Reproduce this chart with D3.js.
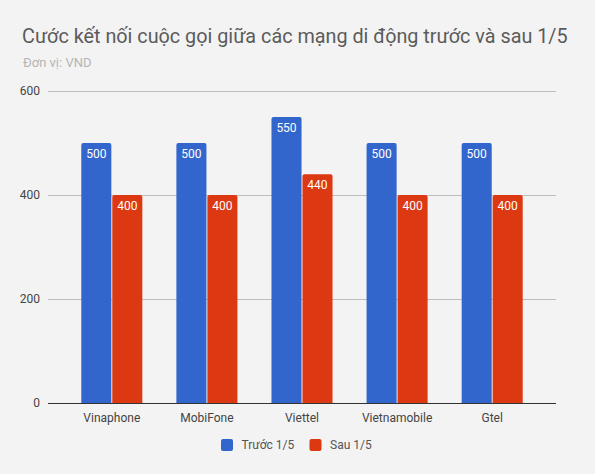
<!DOCTYPE html>
<html>
<head>
<meta charset="utf-8">
<script src="https://cdn.jsdelivr.net/npm/d3@7"></script>
<style>
html,body{margin:0;padding:0;background:#f3f3f3;}
svg{display:block;font-family:Roboto, "Noto Sans", sans-serif;}
</style>
</head>
<body>
<svg id="chart" width="595" height="474"></svg>
<script>
const categories = ["Vinaphone", "MobiFone", "Viettel", "Vietnamobile", "Gtel"];
const seriesNames = ["Trước 1/5", "Sau 1/5"];
const before = [500, 500, 550, 500, 500];
const after = [400, 400, 440, 400, 400];
const yTicks = [0, 200, 400, 600];
const colors = ["#3366cc", "#dc3912"];

(function () {
const svg = d3.select("#chart");
svg.append("rect").attr("width", 595).attr("height", 474).attr("fill", "#f3f3f3");

svg.append("text").attr("x", 22).attr("y", 42.5)
  .attr("font-size", 19.8).attr("fill", "#5b5b5b")
  .text("Cước kết nối cuộc gọi giữa các mạng di động trước và sau 1/5");
svg.append("text").attr("x", 23).attr("y", 66.5)
  .attr("font-size", 13).attr("fill", "#b5b5b5")
  .text("Đơn vị: VND");

const pLeft = 48, pRight = 556, pTop = 91, pBottom = 403;
const y = d3.scaleLinear().domain([0, 600]).range([pBottom, pTop]);
const x0 = d3.scaleBand().domain(categories).range([pLeft, pRight])
  .paddingInner(0.358).paddingOuter(0.35);
const x1 = d3.scaleBand().domain([0, 1]).range([0, x0.bandwidth()]).paddingInner(0.03);

const grid = svg.append("g");
yTicks.forEach(t => {
  if (t !== 0) {
    grid.append("line").attr("x1", pLeft).attr("x2", pRight)
      .attr("y1", y(t) + 0.5).attr("y2", y(t) + 0.5)
      .attr("stroke", "#bdbdbd").attr("stroke-width", 1);
  }
  grid.append("text").attr("x", 40).attr("y", y(t)).attr("dy", "0.35em")
    .attr("text-anchor", "end").attr("font-size", 12).attr("fill", "#444")
    .text(t);
});

function roundTop(xp, yp, w, h, r) {
  return `M${xp},${yp + h}V${yp + r}Q${xp},${yp} ${xp + r},${yp}H${xp + w - r}Q${xp + w},${yp} ${xp + w},${yp + r}V${yp + h}Z`;
}

const data = categories.map((c, i) => ({cat: c, vals: [before[i], after[i]]}));
const groups = svg.append("g").selectAll("g").data(data).join("g")
  .attr("transform", d => `translate(${x0(d.cat)},0)`);
groups.each(function(d) {
  const g = d3.select(this);
  d.vals.forEach((v, k) => {
    const bx = x1(k), bw = x1.bandwidth(), by = y(v), bh = y(0) - y(v);
    g.append("path").attr("d", roundTop(bx, by, bw, bh, 2)).attr("fill", colors[k]);
    g.append("text").attr("x", bx + bw / 2).attr("y", by + 14.5)
      .attr("text-anchor", "middle").attr("font-size", 12).attr("fill", "#ffffff")
      .text(v);
  });
});

svg.append("line").attr("x1", pLeft).attr("x2", pRight)
  .attr("y1", y(0) + 0.5).attr("y2", y(0) + 0.5)
  .attr("stroke", "#333").attr("stroke-width", 1);

const xAxis = d3.axisBottom(x0).tickSize(0).tickPadding(0);
const gx = svg.append("g").attr("transform", `translate(0,${y(0)})`).call(xAxis);
gx.select(".domain").remove();
gx.selectAll("text").attr("font-size", 12).attr("fill", "#444")
  .attr("font-family", "Roboto, sans-serif").attr("y", 18.5).attr("dy", 0);

const legendItems = [{name: seriesNames[0], c: colors[0], x: 221}, {name: seriesNames[1], c: colors[1], x: 309.5}];
const lg = svg.append("g");
legendItems.forEach(it => {
  lg.append("rect").attr("x", it.x).attr("y", 439).attr("width", 12).attr("height", 12)
    .attr("rx", 2).attr("fill", it.c);
  lg.append("text").attr("x", it.x + 20.5).attr("y", 445).attr("dy", "0.35em")
    .attr("font-size", 12).attr("fill", "#555").text(it.name);
});
})();
</script>
</body>
</html>
